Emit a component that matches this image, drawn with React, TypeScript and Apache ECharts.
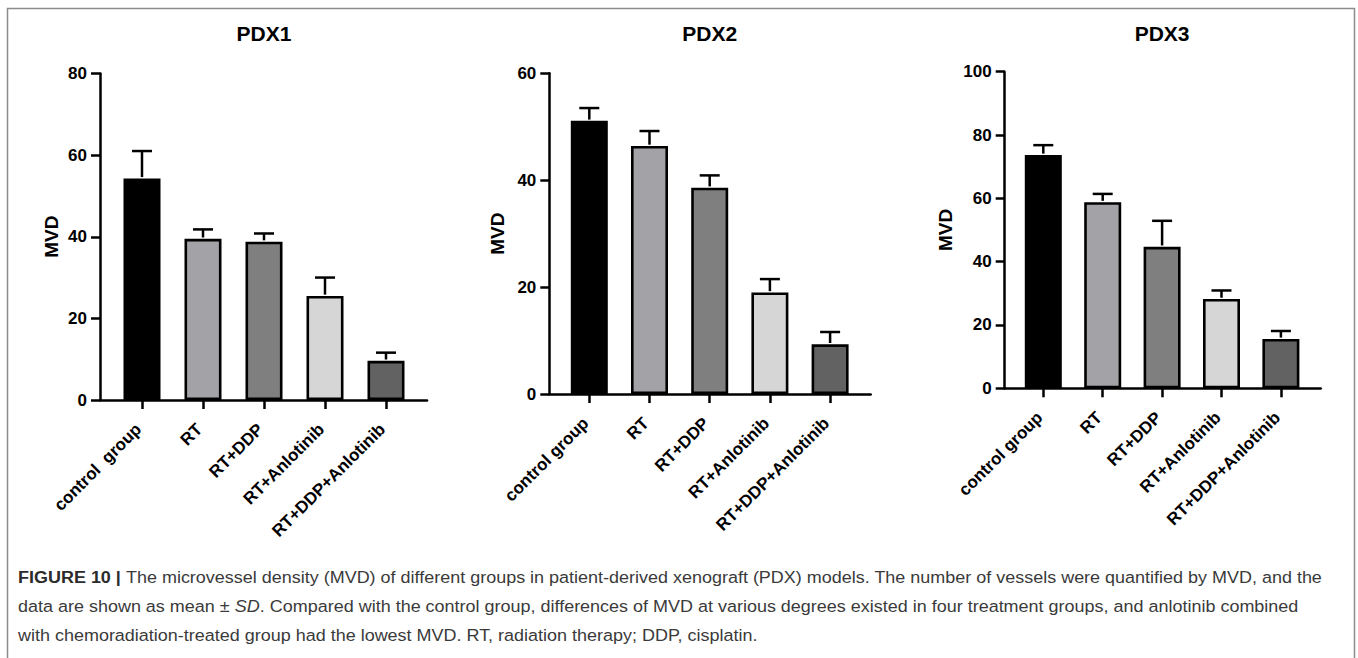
import React, { useEffect, useRef } from "react";
import * as echarts from "echarts";

// ---- data ----
const titles = ["PDX1", "PDX2", "PDX3"];
const categoriesPdx1 = ["control  group", "RT", "RT+DDP", "RT+Anlotinib", "RT+DDP+Anlotinib"];
const categories = ["control group", "RT", "RT+DDP", "RT+Anlotinib", "RT+DDP+Anlotinib"];
const pdx1Mean = [54.3, 39.5, 38.8, 25.5, 9.6];
const pdx1Sd = [6.7, 2.3, 2.0, 4.5, 2.0];
const pdx2Mean = [51.1, 46.4, 38.6, 19.0, 9.3];
const pdx2Sd = [2.4, 2.8, 2.3, 2.5, 2.3];
const pdx3Mean = [73.7, 58.8, 44.7, 28.2, 15.6];
const pdx3Sd = [3.1, 2.6, 8.2, 2.7, 2.5];
const yMax = [80, 60, 100];
const yInterval = 20;
const barColors = ["#000000", "#a3a2a7", "#7f7f7f", "#d6d6d6", "#626262"];
const axisName = "MVD";
const captionLines = [
  "The microvessel density (MVD) of different groups in patient-derived xenograft (PDX) models. The number of vessels were quantified by MVD, and the",
  "data are shown as mean \u00b1 ",
  ". Compared with the control group, differences of MVD at various degrees existed in four treatment groups, and anlotinib combined",
  "with chemoradiation-treated group had the lowest MVD. RT, radiation therapy; DDP, cisplatin.",
];
const captionLabel = "FIGURE 10 | ";
const captionItalic = "SD";

const FONT = '"Liberation Sans", Arial, sans-serif';

// layout (pixels)
const layouts = [
  { left: 111.5, width: 305, top: 73.5, height: 326.5, offset: 11.5, axL: 100, axR: 427, nameGap: 39 },
  { left: 559.2, width: 301, top: 73.3, height: 320.7, offset: 9.9, axL: 549.3, axR: 870.7, nameGap: 42 },
  { left: 1013.6, width: 297, top: 71.7, height: 316.6, offset: 8.9, axL: 1004.7, axR: 1320.7, nameGap: 50 },
];

export default function App() {
  const ref = useRef<HTMLDivElement>(null);
  useEffect(() => {
    if (!ref.current) return;
    const chart = echarts.init(ref.current, null, { renderer: "svg" });

    const means = [pdx1Mean, pdx2Mean, pdx3Mean];
    const sds = [pdx1Sd, pdx2Sd, pdx3Sd];
    const cats = [categoriesPdx1, categories, categories];

    // caption scaling to mimic condensed font
    const cv = document.createElement("canvas").getContext("2d")!;
    cv.font = `bold 17px ${FONT}`;
    const wb = cv.measureText(captionLabel).width;
    cv.font = `17px ${FONT}`;
    const wn = cv.measureText(captionLines[0]).width;
    const capScale = 1305 / (wb + wn);

    const grid: any[] = [];
    const xAxis: any[] = [];
    const yAxis: any[] = [];
    const series: any[] = [];
    const graphic: any[] = [];

    layouts.forEach((L, p) => {
      grid.push({ left: L.left, width: L.width, top: L.top, height: L.height });
      grid.push({ left: L.axL, width: L.axR - L.axL, top: L.top, height: L.height });
      xAxis.push({
        type: "category",
        gridIndex: 2 * p,
        data: cats[p],
        axisLine: { show: false },
        axisTick: { show: true, alignWithLabel: true, length: 9, lineStyle: { color: "#000", width: 2.5 } },
        axisLabel: {
          rotate: 45,
          interval: 0,
          margin: 23,
          padding: [0, 5, 0, 0],
          color: "#000",
          fontSize: 17,
          fontWeight: "bold",
          fontFamily: FONT,
        },
        splitLine: { show: false },
      });
      xAxis.push({
        type: "value",
        gridIndex: 2 * p + 1,
        min: 0,
        max: 1,
        axisLine: { show: true, lineStyle: { color: "#000", width: 2.5 } },
        axisTick: { show: false },
        axisLabel: { show: false },
        splitLine: { show: false },
      });
      yAxis.push({
        type: "value",
        gridIndex: 2 * p,
        min: 0,
        max: yMax[p],
        interval: yInterval,
        offset: L.offset,
        name: axisName,
        nameLocation: "middle",
        nameGap: L.nameGap,
        nameTextStyle: { fontSize: 19, fontWeight: "bold", color: "#000", fontFamily: FONT },
        axisLine: { show: true, lineStyle: { color: "#000", width: 2.5 } },
        axisTick: { show: true, length: 9, lineStyle: { color: "#000", width: 2.5 } },
        axisLabel: { margin: 13, color: "#000", fontSize: 17, fontWeight: "bold", fontFamily: FONT },
        splitLine: { show: false },
      });
      yAxis.push({ type: "value", gridIndex: 2 * p + 1, show: false, min: 0, max: 1 });

      series.push({
        type: "bar",
        xAxisIndex: 2 * p,
        yAxisIndex: 2 * p,
        barWidth: 37,
        data: means[p].map((v, i) => ({
          value: v,
          itemStyle: { color: barColors[i], borderColor: "#000", borderWidth: 2.6 },
        })),
        z: 2,
      });
      series.push({
        type: "custom",
        xAxisIndex: 2 * p,
        yAxisIndex: 2 * p,
        data: means[p].map((v, i) => [i, v, v + sds[p][i]]),
        z: 3,
        renderItem: (params: any, api: any) => {
          const base = api.coord([api.value(0), api.value(1)]);
          const top = api.coord([api.value(0), api.value(2)]);
          const st = { stroke: "#000", lineWidth: 2.5 };
          return {
            type: "group",
            children: [
              { type: "line", shape: { x1: base[0], y1: base[1] - 1.3, x2: top[0], y2: top[1] }, style: st },
              { type: "line", shape: { x1: top[0] - 10, y1: top[1], x2: top[0] + 10, y2: top[1] }, style: st },
            ],
          };
        },
      });

      graphic.push({
        type: "text",
        x: L.left + L.width / 2,
        y: 33,
        style: {
          text: titles[p],
          fill: "#000",
          font: `bold 21px ${FONT}`,
          textAlign: "center",
          textVerticalAlign: "middle",
        },
      });
    });

    // frame
    graphic.push({
      type: "rect",
      shape: { x: 7.5, y: 8.5, width: 1347, height: 700 },
      style: { fill: "none", stroke: "#8c8c8c", lineWidth: 1.5 },
      silent: true,
    });

    const capRich = {
      b: { font: `bold 17px ${FONT}`, fill: "#2b2b2b" },
      n: { font: `17px ${FONT}`, fill: "#3a3a3a" },
      i: { font: `italic 17px ${FONT}`, fill: "#3a3a3a" },
    };
    const capTexts = [
      `{b|${captionLabel}}{n|${captionLines[0]}}`,
      `{n|${captionLines[1]}}{i|${captionItalic}}{n|${captionLines[2]}}`,
      `{n|${captionLines[3]}}`,
    ];
    const capY = [577, 606, 635];
    capTexts.forEach((t, k) => {
      graphic.push({
        type: "text",
        x: 18,
        y: capY[k],
        scaleX: capScale,
        style: {
          text: t,
          rich: capRich,
          font: `17px ${FONT}`,
          fill: "#3a3a3a",
          textAlign: "left",
          textVerticalAlign: "middle",
        },
      });
    });

    chart.setOption({
      animation: false,
      backgroundColor: "#fff",
      grid,
      xAxis,
      yAxis,
      series,
      graphic,
    });
    return () => chart.dispose();
  }, []);

  return (
    <div
      ref={ref}
      style={{ position: "fixed", left: 0, top: 0, width: 1358, height: 658, background: "#fff" }}
    />
  );
}
